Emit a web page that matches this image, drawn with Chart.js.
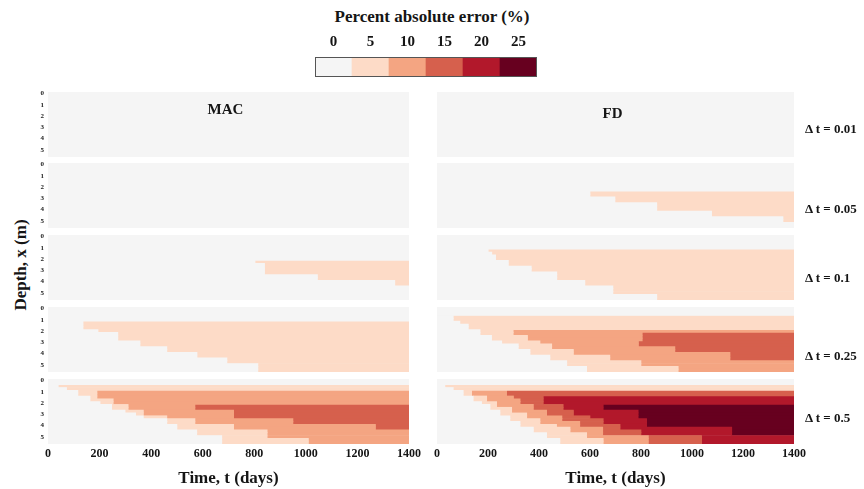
<!DOCTYPE html>
<html>
<head>
<meta charset="utf-8">
<script src="https://cdn.jsdelivr.net/npm/chart.js@4.4.1/dist/chart.umd.min.js"></script>
<style>
  body { margin: 0; background: #fff; }
  #wrap { position: relative; width: 864px; height: 489px; overflow: hidden;
          font-family: "Liberation Serif", "DejaVu Serif", serif; font-weight: bold; color: #151515; }
  #wrap canvas { position: absolute; }
  .lbl { position: absolute; white-space: nowrap; line-height: 1; }
</style>
</head>
<body>
<div id="wrap">
  <div class="lbl" style="left:0;width:864px;text-align:center;top:8px;font-size:17px;">Percent absolute error (%)</div>
  <div class="lbl" id="depthTitle" style="left:20px;top:265px;font-size:17px;transform:translate(-50%,-50%) rotate(-90deg);">Depth, x (m)</div>
</div>
<script>
const timeTicks = [0, 200, 400, 600, 800, 1000, 1200, 1400];
const depthRows = [0, 0.25, 0.5, 0.75, 1, 1.25, 1.5, 1.75, 2, 2.25, 2.5, 2.75,
                   3, 3.25, 3.5, 3.75, 4, 4.25, 4.5, 4.75, 5, 5.25, 5.5];
const levelLabels = ['0', '5', '10', '15', '20', '25'];
const methods = ['MAC', 'FD'];
const timeSteps = ['Δ t = 0.01', 'Δ t = 0.05', 'Δ t = 0.1', 'Δ t = 0.25', 'Δ t = 0.5'];

// time (days) at which each depth row first enters an error band, null = never
const N = null;
const mac010L1 = [N,N,N,N,N,N,N,N,N,803,840,840,840,840,1045,1045,1345,1345,N,N,N,N,N];
const mac025L1 = [N,N,N,N,N,136,136,136,194,271,271,271,357,357,461,461,578,578,694,694,814,814,814];
const mac050L1 = [N,N,40,72,116,116,163,163,202,247,247,299,340,370,461,461,500,500,577,577,674,674,674];
const mac050L2 = [N,N,N,N,190,190,190,253,253,311,311,370,370,461,570,570,720,720,850,850,850,1010,1010];
const mac050L3 = [N,N,N,N,N,N,N,N,N,570,570,720,720,720,950,950,1270,1270,N,N,N,N,N];

const fd005L1 = [N,N,N,N,N,N,N,N,N,N,600,600,698,698,862,862,862,1077,1077,1357,1357,N,N];
const fd010L1 = [N,N,N,N,N,201,215,230,230,280,280,370,370,470,470,470,580,580,690,690,690,862,862];
const fd025L1 = [N,N,N,64,64,90,123,123,169,169,214,214,254,319,319,365,365,443,443,509,509,587,587];
const fd025L2 = [N,N,N,N,N,N,N,N,299,299,355,355,404,450,450,535,535,678,678,800,800,946,946];
const fd025L3 = [N,N,N,N,N,N,N,N,N,805,805,805,790,790,933,933,1149,1149,1149,N,N,N,N];
const fd050L1 = [N,N,31,64,103,103,142,142,175,208,208,247,247,286,286,326,326,378,378,430,430,482,482];
const fd050L2 = [N,N,N,N,136,136,195,195,234,234,293,293,352,352,404,404,469,522,522,587,587,652,652];
const fd050L3 = [N,N,N,N,273,273,300,326,326,378,378,430,430,490,490,560,560,650,650,650,829,829,829];
const fd050L4 = [N,N,N,N,N,N,417,417,417,495,495,535,535,600,652,652,718,718,800,800,1038,1038,1038];
const fd050L5 = [N,N,N,N,N,N,N,N,N,652,652,789,789,789,822,822,822,1156,1156,1156,N,N,N];

const onsetsByMethod = {
  MAC: [[], [], [mac010L1], [mac025L1], [mac050L1, mac050L2, mac050L3]],
  FD: [[], [fd005L1], [fd010L1], [fd025L1, fd025L2, fd025L3], [fd050L1, fd050L2, fd050L3, fd050L4, fd050L5]],
};

const levelColors = ['#f5f5f5', '#fddbc7', '#f4a582', '#d6604d', '#b2182b', '#67001f'];
const serif = '"Liberation Serif", "DejaVu Serif", serif';
const tMax = timeTicks[timeTicks.length - 1];

// layout of the panel grid (pixels)
const colLeft = [48, 437];
const colRight = [409, 794];
const rowTop = [92, 163, 235, 307, 379];
const panelH = 65;
const pad = 12;
const wrap = document.getElementById('wrap');

function addCanvas(left, top, width, height) {
  const c = document.createElement('canvas');
  c.width = width;
  c.height = height;
  c.style.left = left + 'px';
  c.style.top = top + 'px';
  wrap.appendChild(c);
  return c.getContext('2d');
}

function addLabel(text, left, top, size, extra) {
  const d = document.createElement('div');
  d.className = 'lbl';
  d.textContent = text;
  d.style.left = left + 'px';
  d.style.top = top + 'px';
  d.style.fontSize = size + 'px';
  if (extra) Object.assign(d.style, extra);
  wrap.appendChild(d);
}

function buildDatasets(onsets) {
  const levels = [depthRows.map(() => 0), ...onsets];
  return levelColors.map((color, k) => ({
    data: depthRows.map((d, i) => {
      if (!levels[k] || levels[k][i] == null) return null;
      const start = levels[k][i];
      let end = tMax;
      for (let j = k + 1; j < levels.length; j++) {
        if (levels[j][i] != null) { end = levels[j][i]; break; }
      }
      return end > start ? [start, end] : null;
    }),
    backgroundColor: color,
    borderWidth: 0,
    barPercentage: 1,
    categoryPercentage: 1,
    grouped: false,
  }));
}

methods.forEach((method, col) => {
  onsetsByMethod[method].forEach((onsets, row) => {
    const isLeft = col === 0;
    const isBottom = row === rowTop.length - 1;
    const w = colRight[col] - colLeft[col];
    const ctx = addCanvas(colLeft[col] - 20, rowTop[row] - pad, w + 42,
                          panelH + 2 * pad + (isBottom ? 26 : 0));

    new Chart(ctx, {
      type: 'bar',
      data: {
        labels: depthRows.map(String),
        datasets: buildDatasets(onsets),
      },
      options: {
        indexAxis: 'y',
        responsive: false,
        animation: false,
        events: [],
        layout: { padding: { left: isLeft ? 0 : 20, right: 22, top: pad, bottom: pad } },
        plugins: { legend: { display: false }, tooltip: { enabled: false } },
        scales: {
          x: {
            type: 'linear',
            min: 0,
            max: tMax,
            display: isBottom,
            afterBuildTicks: axis => { axis.ticks = timeTicks.map(v => ({ value: v })); },
            afterFit: axis => { if (isBottom) axis.height = 26; },
            grid: { display: false, drawTicks: false },
            border: { display: false },
            ticks: {
              autoSkip: false,
              maxRotation: 0,
              padding: 3,
              color: '#151515',
              font: { family: serif, size: 12, weight: 'bold' },
              callback: v => String(v),
            },
          },
          y: {
            type: 'category',
            display: isLeft,
            afterFit: axis => { if (isLeft) axis.width = 20; },
            grid: { display: false, drawTicks: false },
            border: { display: false },
            ticks: {
              autoSkip: false,
              padding: 4,
              color: '#222',
              font: { family: serif, size: 7, weight: 'bold' },
              callback: (val, idx) => Number.isInteger(depthRows[idx]) ? depthRows[idx] : '',
            },
          },
        },
      },
    });

    if (col === 1) {
      const centers = [128, 208, 277, 355, 417];
      addLabel(timeSteps[row], 805, centers[row], 13, { transform: 'translateY(-50%)' });
    }
  });

  const mid = (colLeft[col] + colRight[col]) / 2;
  addLabel(method, mid - 3, col === 0 ? 109 : 113, 15, { transform: 'translate(-50%,-50%)' });
  addLabel('Time, t (days)', mid, 477, 17, { transform: 'translate(-50%,-50%)' });
});

// colour bar
const boxOutline = {
  id: 'boxOutline',
  afterDraw(chart) {
    const a = chart.chartArea;
    const c = chart.ctx;
    c.save();
    c.strokeStyle = '#555';
    c.lineWidth = 1;
    c.strokeRect(a.left + 0.5, a.top + 0.5, a.right - a.left - 1, a.bottom - a.top - 1);
    c.restore();
  },
};

new Chart(addCanvas(305, 31, 242, 47), {
  type: 'bar',
  data: {
    labels: levelLabels,
    datasets: [{
      data: levelLabels.map(() => 1),
      backgroundColor: levelColors,
      borderWidth: 0,
      barPercentage: 1,
      categoryPercentage: 1,
    }],
  },
  options: {
    responsive: false,
    animation: false,
    events: [],
    layout: { padding: { left: 10, right: 10, top: 0, bottom: 1 } },
    plugins: { legend: { display: false }, tooltip: { enabled: false } },
    scales: {
      x: {
        position: 'top',
        afterFit: axis => { axis.height = 26; },
        grid: { display: false, drawTicks: false },
        border: { display: false },
        ticks: { padding: 6, color: '#151515', font: { family: serif, size: 15, weight: 'bold' } },
      },
      y: { display: false, min: 0, max: 1 },
    },
  },
  plugins: [boxOutline],
});
</script>
</body>
</html>
